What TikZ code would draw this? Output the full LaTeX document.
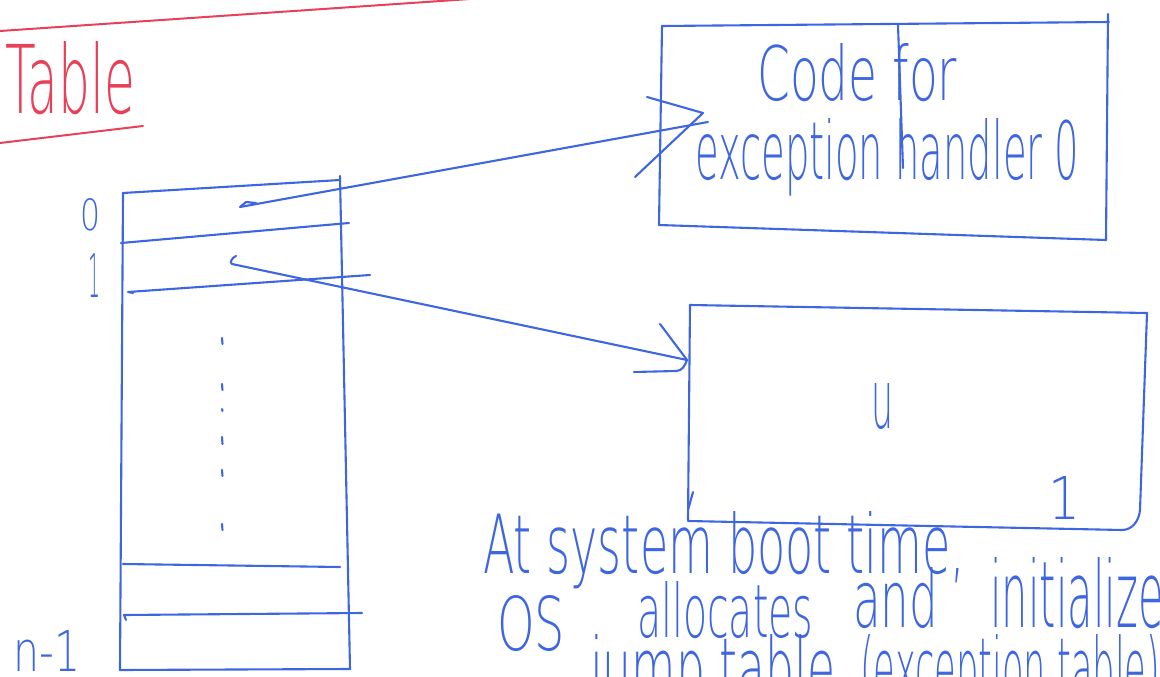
\documentclass[tikz,border=0pt]{standalone}
\usepackage{fontspec}
\setmainfont{DejaVu Sans}[UprightFont=* ExtraLight]
\usepackage{graphicx}
\definecolor{pen}{RGB}{62,102,224}
\definecolor{redpen}{RGB}{232,64,88}
% a word stretched to a given width and height above its baseline
\newcommand\hand[3]{\resizebox{#1pt}{#2pt}{#3}}

\begin{document}
\begin{tikzpicture}[x=1pt,y=-1pt,
  ink/.style={draw=pen,line width=2.1pt,line cap=round,line join=round},
  redink/.style={draw=redpen,line width=2pt,line cap=round},
  word/.style={inner sep=0pt,anchor=base west,text=pen},
  redword/.style={inner sep=0pt,anchor=base west,text=redpen}]
\useasboundingbox (0,0) rectangle (1160,677);
\clip (0,0) rectangle (1160,677);

% heading
\draw[redink] (0,31) -- (470,-1);
\node[redword] (title) at (5,113) {\hand{130}{72}{Table}};
\draw[redink] (0,143) -- (143,126);

% the jump table
\coordinate (tl) at (123,193);
\coordinate (tr) at (340,180);
\coordinate (br) at (350,669);
\coordinate (bl) at (120,670);
\draw[ink] (tl) -- (tr);
\draw[ink] (340,176) -- (br);
\draw[ink] (tl) -- (bl);
\draw[ink] (bl) -- (br);
\draw[ink] (121,243) -- (349,223);
\draw[ink] (133,293) -- (128,292) -- (370,275);
\draw[ink] (123,564) -- (340,567);
\draw[ink] (126,620) -- (124,615) -- (362,613);
\foreach \ya/\yb in {338/344, 384/390, 409/411, 437/444, 470/476, 524/530}
  \draw[ink] (222,\ya) -- (222.5,\yb);

% row labels
\node[word] (l0) at (80,230) {\hand{20}{32}{0}};
\node[word] (l1) at (88,297) {\hand{12}{44}{1}};
\node[word] (ln) at (13,671) {\hand{67}{41}{n-1}};

% handler 0 box
\coordinate (a1) at (662,26);
\coordinate (a2) at (1109,22);
\coordinate (a3) at (1106,240);
\coordinate (a4) at (659,225);
\draw[ink] (a1) -- (a2);
\draw[ink] (1108,14) -- (a3);
\draw[ink] (a1) -- (a4);
\draw[ink] (a4) -- (a3);
\node[word] (code) at (757,100) {\hand{200}{57}{Code for}};
\node[word] (exc) at (695,179) {\hand{384}{61}{exception handler 0}};
\draw[ink] (898,25) -- (903,168);

% handler 1 box
\coordinate (b1) at (690,305);
\coordinate (b2) at (1147,313);
\coordinate (b4) at (688,520);
\draw[ink] (b1) -- (b2);
\draw[ink] (b1) -- (b4);
\draw[ink] (b2) -- (1140,510) to[out=-95,in=0] (1122,530) -- (688,521);
\draw[ink] (693,492) -- (688,510);
\node[word] (ditto) at (871,428) {\hand{22}{45}{u}};
\node[word] (one) at (1048,519) {\hand{32}{43}{1}};

% pointers from the table rows to the handlers
\coordinate (p0) at (240,207);
\coordinate (h0) at (703,113);
\coordinate (p1) at (232,264);
\coordinate (h1) at (687,360);
\draw[ink] (256,203) -- (246,202) -- (p0) -- (708,122);
\draw[ink] (647,97) -- (h0) -- (635,177);
\draw[ink] (236,256) to[out=200,in=160] (p1) -- (h1);
\draw[ink] (660,324) -- (h1) to[out=-110,in=0] (676,371) -- (634,372);

% note
\node[word] (n1) at (483,573) {\hand{482}{62}{At system boot time,}};
\node[word] (n2a) at (497,650) {\hand{68}{55}{OS}};
\node[word] (n2b) at (637,637) {\hand{176}{56}{allocates}};
\node[word] (n2c) at (853,627) {\hand{85}{60}{and}};
\node[word] (n2d) at (990,627) {\hand{195}{70}{initializes}};
\node[word] (n3a) at (590,697) {\hand{245}{63}{jump table}};
\node[word] (n3b) at (860,697) {\hand{300}{63}{(exception table)}};
\end{tikzpicture}
\end{document}
